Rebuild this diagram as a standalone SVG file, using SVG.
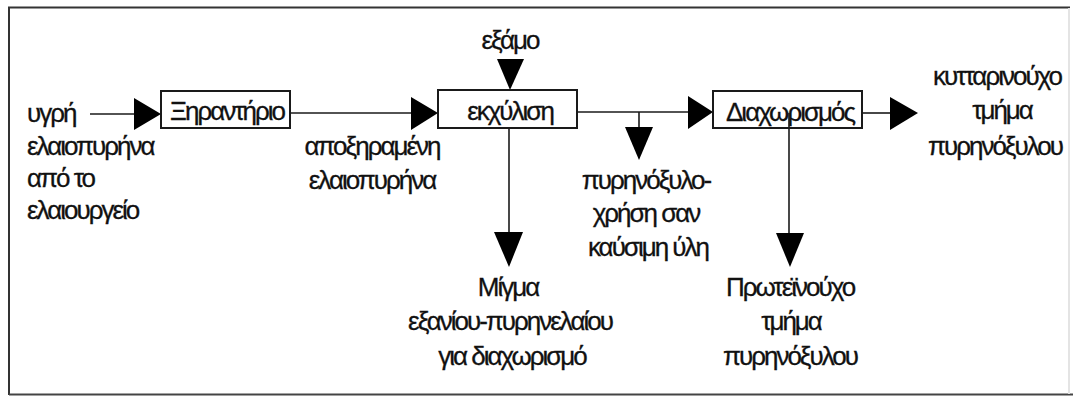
<svg xmlns="http://www.w3.org/2000/svg" width="1073" height="397" viewBox="0 0 1073 397">
  <style>
    text { font-family: "Liberation Sans", Arial, sans-serif; font-size: 26px; letter-spacing: -2px; fill: #111; stroke: #111; stroke-width: 0.3px; }
    .c { text-anchor: middle; }
    .box { fill: #fff; stroke: #1a1a1a; stroke-width: 2; }
    .ln { stroke: #1a1a1a; stroke-width: 1.6; fill: none; }
    .hd { fill: #000; stroke: none; }
  </style>

  <!-- outer frame -->
  <rect x="0" y="0" width="1073" height="397" fill="#fff"/>
  <path d="M9 395 V7.5 H1070" fill="none" stroke="#333" stroke-width="2"/>
  <path d="M9 394.5 H1073" fill="none" stroke="#444" stroke-width="2"/>
  <path d="M1069 8 V394" fill="none" stroke="#e4e4e4" stroke-width="2"/>

  <!-- connectors -->
  <g id="connectors">
    <line class="ln" x1="90" y1="114" x2="136" y2="114"/>
    <polygon class="hd" points="134,98 134,130 161,114"/>

    <line class="ln" x1="290" y1="113" x2="413" y2="113"/>
    <polygon class="hd" points="411,97 411,130 438,113"/>

    <polygon class="hd" points="497,59 524,59 510,90"/>

    <line class="ln" x1="577" y1="112" x2="690" y2="112"/>
    <polygon class="hd" points="688,96 688,129 713,112"/>

    <line class="ln" x1="639" y1="112" x2="639" y2="128"/>
    <polygon class="hd" points="625,127 653,127 639,160"/>

    <line class="ln" x1="509" y1="128" x2="509" y2="234"/>
    <polygon class="hd" points="494,232 523,232 509,267"/>

    <line class="ln" x1="862" y1="113" x2="892" y2="113"/>
    <polygon class="hd" points="890,97 890,130 918,113"/>
  </g>

  <!-- process blocks -->
  <g id="dryer">
    <rect class="box" x="161" y="91" width="129" height="37"/>
    <text class="c" x="227" y="120">Ξηραντήριο</text>
  </g>
  <g id="extraction">
    <rect class="box" x="438" y="90" width="139" height="38"/>
    <text class="c" x="510" y="120">εκχύλιση</text>
  </g>
  <g id="separation">
    <rect class="box" x="713" y="91" width="149" height="37"/>
    <text class="c" x="790" y="121">Διαχωρισμός</text>
  </g>

  <!-- protein outlet runs from inside the separation block -->
  <g id="connectors-separation">
    <line class="ln" x1="789" y1="113" x2="789" y2="235"/>
    <polygon class="hd" points="776,233 804,233 790,267"/>
  </g>

  <!-- stream labels -->
  <g id="input">
    <text x="27" y="122">υγρή</text>
    <text x="27" y="155">ελαιοπυρήνα</text>
    <text x="27" y="187">από το</text>
    <text x="27" y="219">ελαιουργείο</text>
  </g>
  <g id="dried">
    <text class="c" x="372" y="155">αποξηραμένη</text>
    <text class="c" x="372" y="189">ελαιοπυρήνα</text>
  </g>
  <g id="hexane">
    <text class="c" x="510" y="49">εξάμο</text>
  </g>
  <g id="fuel">
    <text class="c" x="646" y="189">πυρηνόξυλο-</text>
    <text class="c" x="646" y="222">χρήση σαν</text>
    <text class="c" x="648" y="256">καύσιμη ύλη</text>
  </g>
  <g id="mixture">
    <text class="c" x="508" y="296">Μίγμα</text>
    <text class="c" x="510" y="330">εξανίου-πυρηνελαίου</text>
    <text class="c" x="512" y="365">για διαχωρισμό</text>
  </g>
  <g id="cellulose">
    <text class="c" x="997" y="85">κυτταρινούχο</text>
    <text class="c" x="1002" y="119">τμήμα</text>
    <text class="c" x="995" y="155">πυρηνόξυλου</text>
  </g>
  <g id="protein">
    <text class="c" x="790" y="296">Πρωτεϊνούχο</text>
    <text class="c" x="791" y="330">τμήμα</text>
    <text class="c" x="790" y="365">πυρηνόξυλου</text>
  </g>
</svg>
